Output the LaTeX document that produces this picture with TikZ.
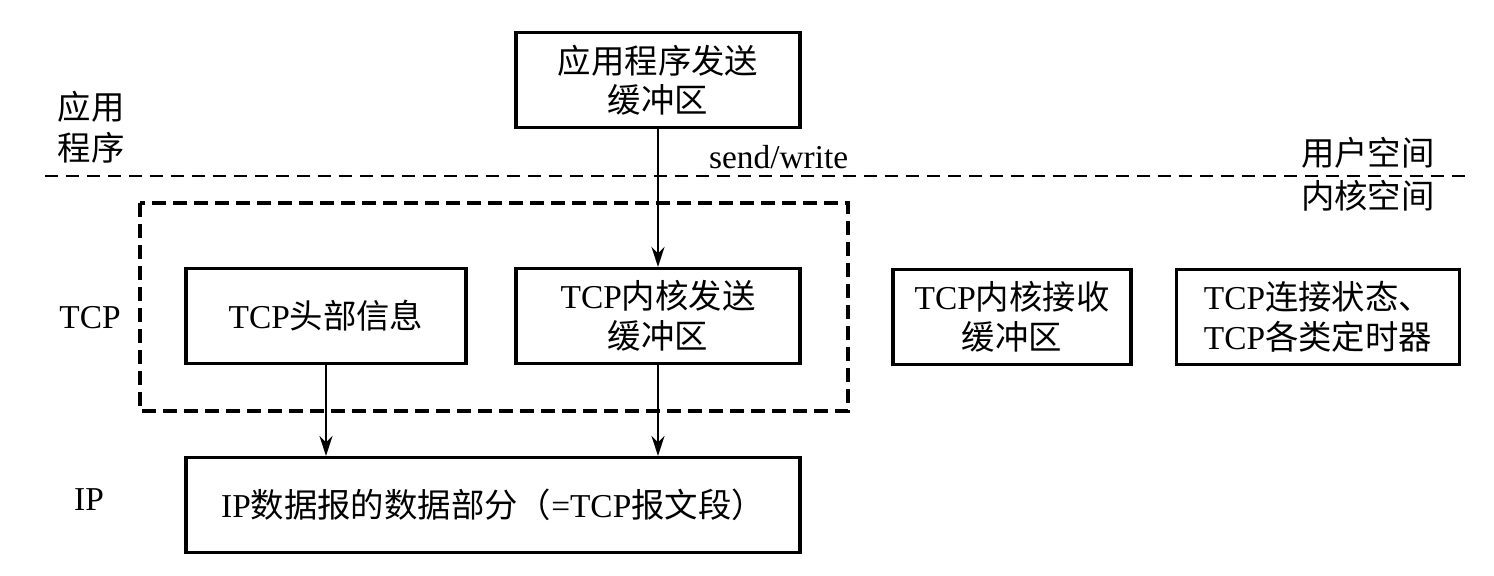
\documentclass[tikz,border=0pt]{standalone}
\usepackage{fontspec}
\setmainfont{Liberation Serif}
\newfontfamily\cjk{Noto Sans CJK SC}
\usetikzlibrary{arrows.meta}

\begin{document}
\begin{tikzpicture}[x=0.02cm,y=-0.02cm,>={Stealth[length=0.4cm,width=0.26cm]},font=\fontsize{19}{22.5}\selectfont,
buffer/.style={draw, line width=1.8pt, minimum height=1.9cm, align=center, inner sep=0pt},
flow/.style={->, line width=1.3pt},
layer/.style={align=left, inner sep=0pt},
space/.style={anchor=east, inner sep=0pt}]
\useasboundingbox (0,0) rectangle (1494,575);
\node[buffer, minimum width=5.68cm] (app) at (658,80) {{\cjk 应用程序发送}\\{\cjk 缓冲区}};
\node[buffer, minimum width=5.6cm] (tcphdr) at (326,316) {TCP{\cjk 头部信息}};
\node[buffer, minimum width=5.68cm] (tcpsend) at (658,316) {TCP{\cjk 内核发送}\\{\cjk 缓冲区}};
\node[buffer, minimum width=4.76cm] (tcprecv) at (1012,317) {TCP{\cjk 内核接收}\\{\cjk 缓冲区}};
\node[buffer, minimum width=5.66cm] (tcpstate) at (1318,317) {TCP{\cjk 连接状态、}\\TCP{\cjk 各类定时器}};
\node[buffer, minimum width=12.28cm] (ip) at (493,505) {IP{\cjk 数据报的数据部分（}=TCP{\cjk 报文段）}};
% layer labels on the left
\node[layer] (applbl) at (91,127) {{\cjk 应用}\\[0.02cm]{\cjk 程序}};
\node[layer] (tcplbl) at (90,318) {TCP};
\node[layer] (iplbl) at (89,500) {IP};
% user / kernel boundary
\coordinate (bl) at (45,176); \coordinate (br) at (1465,176);
\draw[line width=1pt, dash pattern=on 0.26cm off 0.16cm] (bl) -- (br);
\node[space] (user) at (1435,153) {\cjk 用户空间};
\node[space] (kernel) at (1435,196) {\cjk 内核空间};
\draw[line width=2.1pt, dash pattern=on 0.28cm off 0.14cm] (140,203) rectangle (848,411);
\draw[flow] (app) -- (tcpsend) node[pos=0.2, right=1cm, inner sep=0pt] (sendlbl) {send/write};
\draw[flow] (tcphdr.south) -- (tcphdr.south |- ip.north);
\draw[flow] (tcpsend.south) -- (tcpsend.south |- ip.north);
\end{tikzpicture}
\end{document}
